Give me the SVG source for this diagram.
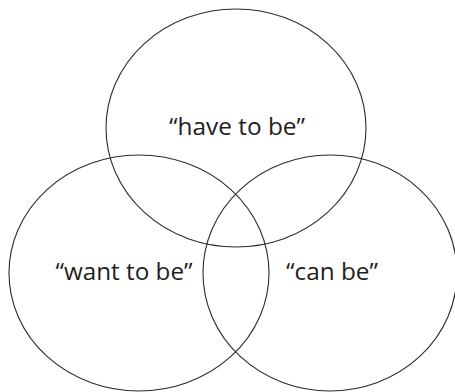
<svg xmlns="http://www.w3.org/2000/svg" width="455" height="392" viewBox="0 0 455 392">
<style>
.c{fill:none;stroke:#2a2a2a;stroke-width:1.1}
.t{font-family:"Open Sans","Liberation Sans",sans-serif;font-size:23px;fill:#1e1e1e;text-anchor:middle}
</style>
<rect width="455" height="392" fill="#fff"/>
<g id="have">
<ellipse class="c" cx="236" cy="128" rx="130" ry="119"/>
<text class="t" x="237" y="135" textLength="136" lengthAdjust="spacingAndGlyphs">“have to be”</text>
</g>
<g id="want">
<ellipse class="c" cx="139" cy="273" rx="130" ry="118"/>
<text class="t" x="124" y="280" textLength="137" lengthAdjust="spacingAndGlyphs">“want to be”</text>
</g>
<g id="can">
<ellipse class="c" cx="330" cy="273" rx="127" ry="118"/>
<text class="t" x="332" y="280" textLength="92" lengthAdjust="spacingAndGlyphs">“can be”</text>
</g>
<g id="connectors"></g>
</svg>
